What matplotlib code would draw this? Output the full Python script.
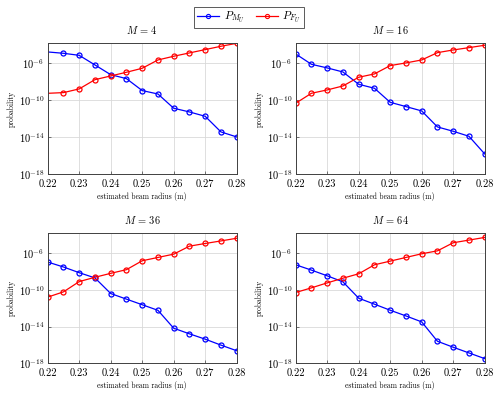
import numpy as np
import matplotlib
matplotlib.use("Agg")
import matplotlib.pyplot as plt
from matplotlib.lines import Line2D

plt.rcParams['mathtext.fontset'] = 'cm'
plt.rcParams['font.family'] = 'serif'
plt.rcParams['font.serif'] = ['cmr10', 'DejaVu Serif']
plt.rcParams['axes.unicode_minus'] = False
plt.rcParams['axes.formatter.use_mathtext'] = True

radius = [0.22, 0.225, 0.23, 0.235, 0.24, 0.245, 0.25, 0.255, 0.26, 0.265, 0.27, 0.275, 0.28]
radius_m4 = [0.215, 0.225, 0.23, 0.235, 0.24, 0.245, 0.25, 0.255, 0.26, 0.265, 0.27, 0.275, 0.28]

titles = ["$M\\,=\\,4$", "$M\\,=\\,16$", "$M\\,=\\,36$", "$M\\,=\\,64$"]

# log10 of probabilities
pm_m4 = [-4.63, -4.92, -5.14, -6.18, -7.23, -7.66, -8.95, -9.32, -10.86, -11.26, -11.73, -13.42, -13.96]
pf_m4 = [-9.32, -9.17, -8.77, -7.77, -7.37, -6.97, -6.54, -5.64, -5.24, -4.88, -4.52, -4.16, -3.84]
pm_m16 = [-4.99, -6.11, -6.50, -6.94, -8.27, -8.70, -10.22, -10.68, -11.15, -12.88, -13.35, -13.89, -15.80]
pf_m16 = [-10.32, -9.24, -8.88, -8.45, -7.51, -7.15, -6.25, -5.96, -5.64, -4.85, -4.56, -4.31, -4.05]
pm_m36 = [-6.97, -7.51, -8.13, -8.70, -10.40, -11.01, -11.62, -12.23, -14.18, -14.79, -15.37, -16.02, -16.63]
pf_m36 = [-10.79, -10.22, -9.10, -8.63, -8.20, -7.80, -6.83, -6.47, -6.11, -5.24, -4.95, -4.67, -4.38]
pm_m64 = [-7.27, -7.85, -8.47, -9.13, -10.91, -11.56, -12.22, -12.84, -13.49, -15.60, -16.25, -16.87, -17.49]
pf_m64 = [-10.29, -9.78, -9.24, -8.73, -8.25, -7.27, -6.87, -6.47, -6.07, -5.75, -4.87, -4.58, -4.29]

xs = [radius_m4, radius, radius, radius]
pms = [pm_m4, pm_m16, pm_m36, pm_m64]
pfs = [pf_m4, pf_m16, pf_m36, pf_m64]

xticks = [0.22, 0.23, 0.24, 0.25, 0.26, 0.27, 0.28]
xticklabels = ["0.22", "0.23", "0.24", "0.25", "0.26", "0.27", "0.28"]
yticks = [1e-18, 1e-14, 1e-10, 1e-6]
yticklabels = ["$10^{-18}$", "$10^{-14}$", "$10^{-10}$", "$10^{-6}$"]

fig = plt.figure(figsize=(4.98, 3.93), dpi=100)
W, H = 498, 393
boxes = [(47.7, 43.3, 236.7, 174.3), (295.7, 43.3, 484.7, 174.3),
         (47.7, 233.3, 236.7, 363.3), (295.7, 233.3, 484.7, 363.3)]

blue = '#0000ff'
red = '#ff0000'

for i in range(4):
    l, t, r, b = boxes[i]
    ax = fig.add_axes([l / W, 1 - b / H, (r - l) / W, (b - t) / H])
    x = xs[i]
    ax.plot(x, [10 ** v for v in pms[i]], color=blue, lw=0.9, marker='o', ms=3.6,
            mfc='none', mec=blue, mew=0.9, clip_on=True)
    ax.plot(x, [10 ** v for v in pfs[i]], color=red, lw=0.9, marker='o', ms=3.6,
            mfc='none', mec=red, mew=0.9, clip_on=True)
    ax.set_yscale('log')
    ax.set_xlim(0.22, 0.28)
    ax.set_ylim(1e-18, 10 ** -3.84)
    ax.set_xticks(xticks)
    ax.set_xticklabels(xticklabels, fontsize=7.5)
    ax.set_yticks(yticks)
    ax.set_yticklabels(yticklabels, fontsize=7.5)
    ax.minorticks_off()
    ax.grid(True, color='#d9d9d9', lw=0.6)
    ax.set_axisbelow(True)
    ax.tick_params(direction='in', length=2.5, width=0.5, color='#404040')
    ax.tick_params(axis='x', pad=3.5)
    ax.tick_params(axis='y', pad=2.5)
    for s in ax.spines.values():
        s.set_linewidth(0.7)
        s.set_color('#404040')
    ax.set_xlabel("estimated beam radius (m)", fontsize=5.5, labelpad=2.5)
    ax.set_ylabel("probability", fontsize=5.5, labelpad=2)
    ax.set_title(titles[i], fontsize=7.5, pad=7)

handles = [Line2D([], [], color=blue, lw=0.9, marker='o', ms=3, mfc='none', mew=0.8),
           Line2D([], [], color=red, lw=0.9, marker='o', ms=3, mfc='none', mew=0.8)]
fig.legend(handles, ["$P_{M_U}$", "$P_{F_U}$"], loc='upper center',
           bbox_to_anchor=(0.5, 0.997), ncol=2, fontsize=8, frameon=True,
           fancybox=False, edgecolor='#404040', handlelength=2.0,
           handletextpad=0.4, columnspacing=1.0, borderpad=0.25,
           framealpha=1).get_frame().set_linewidth(0.6)

fig.savefig("out.png", dpi=100)
